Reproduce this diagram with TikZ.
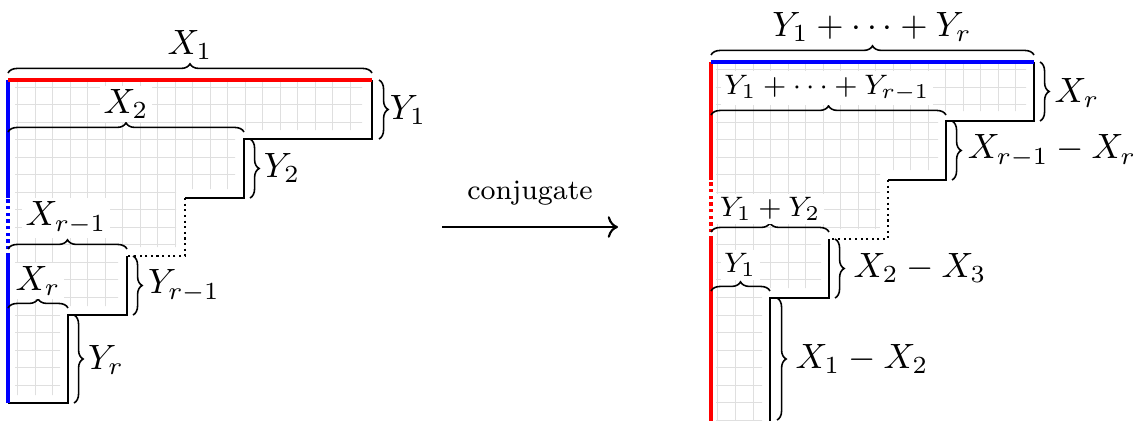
\documentclass[tikz,border=0pt]{standalone}
\usepackage{amsmath,amssymb}
\usepackage{xcolor}
\usepackage{tikz}
\usetikzlibrary{calc,positioning,arrows.meta,decorations.pathreplacing}

\begin{document}
\begin{tikzpicture}[x=0.01cm, y=0.01cm,
    edge/.style={line width=0.6pt},
    gap/.style={line width=0.6pt, densely dotted},
    mark red/.style={red, line width=0.9pt},
    mark blue/.style={blue, line width=0.9pt},
    cellgrid/.style={gray!25, line width=0.25pt, step=1.75mm},
    brc/.style={decorate, decoration={brace, amplitude=2.6pt}, line width=0.45pt},
    lab/.style={inner sep=1pt},
    inlab/.style={inner sep=1pt, fill=white},
    smlab/.style={font=\footnotesize, inner sep=1pt, fill=white}]
  \useasboundingbox (0,0) rectangle (1146,420);

  % ---------- left: the partition ----------
  % light cells, kept inside the staircase
  \begin{scope}
    \clip (15,340) -- (362,340) -- (362,290) -- (235,290) -- (235,231) -- (176,231)
      -- (176,173) -- (118,173) -- (118,114) -- (60,114) -- (60,25) -- (15,25) -- cycle;
    \draw[cellgrid] (0,0) grid (400,360);
  \end{scope}
  % staircase outline
  \draw[edge] (372,340) -- (372,281) -- (244,281) -- (244,222) -- (185,222);
  \draw[gap] (185,222) -- (185,164) -- (127,164);
  \draw[edge] (127,164) -- (127,105) -- (68,105) -- (68,17) -- (8,17);
  % first row red, first column blue
  \draw[mark blue] (8,17) -- (8,164);
  \draw[mark blue, densely dotted] (8,164) -- (8,222);
  \draw[mark blue] (8,222) -- (8,340);
  \draw[mark red] (8,340) -- (372,340);

  % widths on top, heights at the right
  \draw[brc] (8,347) -- (372,347);
  \node[lab] (lx1) at (190,375) {$X_1$};
  \draw[brc] (379,340) -- (379,281);
  \node[lab] (ly1) at (408,310) {$Y_1$};
  \draw[brc] (8,288) -- (244,288);
  \node[inlab] (lx2) at (126,316) {$X_2$};
  \draw[brc] (250,281) -- (250,222);
  \node[lab] (ly2) at (282,252) {$Y_2$};
  \draw[brc] (8,171) -- (127,171);
  \node[inlab] (lxr1) at (66,202) {$X_{r-1}$};
  \draw[brc] (133,164) -- (133,105);
  \node[lab] (lyr1) at (184,134) {$Y_{r-1}$};
  \draw[brc] (8,112) -- (68,112);
  \node[inlab] (lxr) at (38,139) {$X_r$};
  \draw[brc] (74,105) -- (74,17);
  \node[lab] (lyr) at (106,60) {$Y_r$};

  % ---------- arrow ----------
  \coordinate (from) at (442,193);
  \coordinate (to) at (618,193);
  \draw[->, line width=0.6pt] (from) -- (to);
  \node[font=\footnotesize] (conj) at (530,227) {conjugate};

  % ---------- right: the conjugate ----------
  \begin{scope}
    \clip (716,358) -- (1026,358) -- (1026,309) -- (938,309) -- (938,250) -- (880,250)
      -- (880,191) -- (821,191) -- (821,132) -- (762,132) -- (762,-10) -- (716,-10) -- cycle;
    \draw[cellgrid] (700,-10) grid (1040,360);
  \end{scope}
  \draw[edge] (1034,358) -- (1034,299) -- (946,299) -- (946,240) -- (888,240);
  \draw[gap] (888,240) -- (888,181) -- (829,181);
  \draw[edge] (829,181) -- (829,122) -- (770,122) -- (770,-10);
  \draw[mark red] (711,-10) -- (711,181);
  \draw[mark red, densely dotted] (711,181) -- (711,240);
  \draw[mark red] (711,240) -- (711,358);
  \draw[mark blue] (711,358) -- (1034,358);

  \draw[brc] (711,365) -- (1034,365);
  \node[lab] (ltop) at (872,393) {$Y_1+\cdots+Y_r$};
  \draw[brc] (1040,358) -- (1040,299);
  \node[lab] (lxrc) at (1077,327) {$X_r$};
  \draw[brc] (711,305) -- (946,305);
  \node[smlab] (lsum) at (827,332) {$Y_1+\cdots+Y_{r-1}$};
  \draw[brc] (952,299) -- (952,240);
  \node[lab] (ldiffa) at (1052,269) {$X_{r-1}-X_r$};
  \draw[brc] (711,188) -- (829,188);
  \node[smlab] (lsumb) at (770,211) {$Y_1+Y_2$};
  \draw[brc] (835,181) -- (835,122);
  \node[lab] (ldiffb) at (920,152) {$X_2-X_3$};
  \draw[brc] (711,129) -- (770,129);
  \node[smlab] (lsumc) at (740,155) {$Y_1$};
  \draw[brc] (777,122) -- (777,0);
  \node[lab] (ldiffc) at (862,61) {$X_1-X_2$};
\end{tikzpicture}
\end{document}
